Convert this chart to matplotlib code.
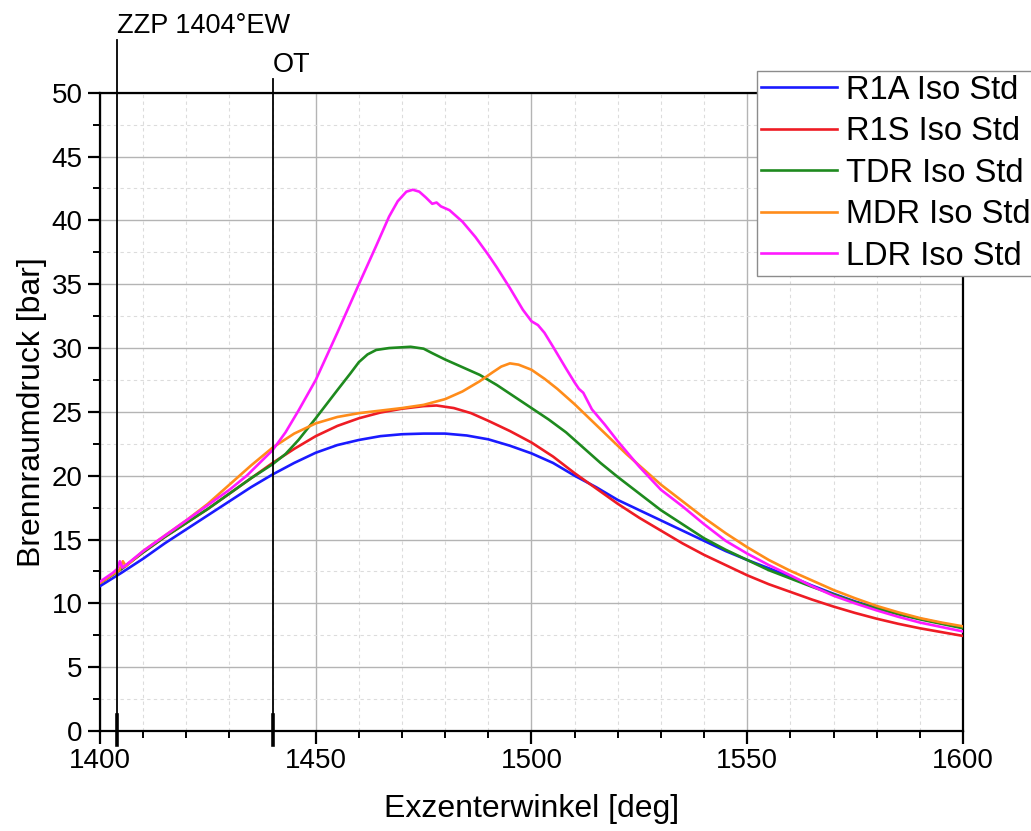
import numpy as np
import matplotlib
matplotlib.use("Agg")
import matplotlib.pyplot as plt
from matplotlib.ticker import MultipleLocator
import matplotlib.transforms as mtransforms

plt.rcParams['font.family'] = ['Liberation Sans', 'DejaVu Sans']

# --- data (angle in deg, pressure in bar) ---
r1a_x = [1400, 1405, 1410, 1415, 1420, 1425, 1430, 1435, 1440, 1445, 1450, 1455,
         1460, 1465, 1470, 1475, 1480, 1485, 1490, 1495, 1500, 1505, 1510, 1515,
         1520, 1525, 1530, 1535, 1540, 1545, 1550, 1555, 1560, 1565, 1570, 1575,
         1580, 1585, 1590, 1595, 1600]
r1a_y = [11.35, 12.4, 13.5, 14.7, 15.8, 16.9, 18.0, 19.1, 20.1, 21.0, 21.8, 22.4,
         22.8, 23.1, 23.25, 23.3, 23.3, 23.15, 22.85, 22.35, 21.75, 21.0, 20.0, 19.1,
         18.1, 17.3, 16.5, 15.7, 14.9, 14.1, 13.4, 12.75, 12.1, 11.4, 10.75, 10.15,
         9.65, 9.2, 8.8, 8.45, 8.1]

r1s_x = [1400, 1405, 1410, 1415, 1420, 1425, 1430, 1435, 1440, 1445, 1450, 1455,
         1460, 1465, 1470, 1475, 1478, 1482, 1486, 1490, 1495, 1500, 1505, 1510,
         1515, 1520, 1525, 1530, 1535, 1540, 1545, 1550, 1555, 1560, 1565, 1570,
         1575, 1580, 1585, 1590, 1595, 1600]
r1s_y = [11.6, 12.7, 14.0, 15.2, 16.3, 17.4, 18.6, 19.8, 21.0, 22.1, 23.1, 23.9,
         24.5, 24.95, 25.25, 25.45, 25.5, 25.3, 24.9, 24.3, 23.5, 22.6, 21.5, 20.2,
         19.0, 17.8, 16.7, 15.7, 14.7, 13.8, 13.0, 12.2, 11.5, 10.9, 10.3, 9.75,
         9.25, 8.8, 8.4, 8.05, 7.75, 7.45]

tdr_x = [1400, 1405, 1410, 1415, 1420, 1425, 1430, 1435, 1440, 1443, 1446, 1450,
         1455, 1458, 1460, 1462, 1464, 1467, 1472, 1475, 1477, 1480, 1484, 1488,
         1492, 1496, 1500, 1504, 1508, 1512, 1516, 1520, 1525, 1530, 1535, 1540,
         1545, 1550, 1555, 1560, 1565, 1570, 1575, 1580, 1585, 1590, 1595, 1600]
tdr_y = [11.6, 12.7, 14.0, 15.2, 16.3, 17.4, 18.6, 19.8, 20.9, 21.7, 22.8, 24.5,
         26.7, 28.0, 28.9, 29.5, 29.85, 30.0, 30.1, 29.95, 29.6, 29.1, 28.5, 27.9,
         27.1, 26.2, 25.3, 24.4, 23.4, 22.2, 21.0, 19.9, 18.6, 17.3, 16.2, 15.1,
         14.2, 13.4, 12.6, 11.95, 11.3, 10.7, 10.1, 9.6, 9.15, 8.75, 8.4, 8.05]

mdr_x = [1400, 1403, 1404.5, 1405.3, 1406, 1410, 1415, 1420, 1425, 1430, 1435, 1440,
         1445, 1450, 1455, 1460, 1465, 1470, 1475, 1480, 1484, 1488, 1491, 1493,
         1495, 1497, 1500, 1503, 1506, 1510, 1514, 1518, 1522, 1526, 1530, 1535,
         1540, 1545, 1550, 1555, 1560, 1565, 1570, 1575, 1580, 1585, 1590, 1595, 1600]
mdr_y = [11.6, 12.3, 12.6, 13.3, 12.9, 14.1, 15.3, 16.5, 17.8, 19.3, 20.8, 22.2,
         23.3, 24.1, 24.6, 24.9, 25.1, 25.3, 25.55, 26.0, 26.6, 27.4, 28.1, 28.55,
         28.8, 28.7, 28.3, 27.6, 26.8, 25.6, 24.3, 23.0, 21.7, 20.5, 19.3, 18.0,
         16.7, 15.5, 14.4, 13.4, 12.55, 11.8, 11.05, 10.4, 9.8, 9.3, 8.85, 8.5, 8.2]

ldr_x = [1400, 1403, 1404, 1404.6, 1405.2, 1406, 1410, 1415, 1420, 1425, 1430, 1434,
         1437, 1440, 1443, 1446, 1450, 1455, 1460, 1464, 1467, 1469, 1471, 1472.5,
         1474, 1475.5, 1477, 1478, 1479, 1481, 1484, 1487, 1490, 1492, 1495, 1498,
         1500, 1501.5, 1503, 1505, 1508, 1510, 1511, 1512, 1514, 1517, 1520, 1525,
         1530, 1535, 1540, 1545, 1550, 1555, 1560, 1565, 1570, 1575, 1580, 1585,
         1590, 1595, 1600]
ldr_y = [11.7, 12.4, 12.7, 13.3, 12.8, 13.0, 14.1, 15.3, 16.5, 17.7, 18.9, 20.0,
         21.0, 22.0, 23.4, 25.1, 27.5, 31.2, 35.0, 38.0, 40.3, 41.5, 42.25, 42.4,
         42.25, 41.8, 41.3, 41.4, 41.1, 40.8, 39.9, 38.7, 37.3, 36.3, 34.7, 33.0,
         32.1, 31.8, 31.2, 30.1, 28.4, 27.3, 26.8, 26.5, 25.2, 24.0, 22.7, 20.7,
         18.9, 17.6, 16.2, 14.9, 13.9, 13.0, 12.2, 11.35, 10.6, 10.0, 9.45, 8.95,
         8.5, 8.15, 7.8]

series = [
    ("R1A Iso Std", r1a_x, r1a_y, "#1a1aff"),
    ("R1S Iso Std", r1s_x, r1s_y, "#ee1c24"),
    ("TDR Iso Std", tdr_x, tdr_y, "#1e8a1e"),
    ("MDR Iso Std", mdr_x, mdr_y, "#ff8c1a"),
    ("LDR Iso Std", ldr_x, ldr_y, "#ff1aff"),
]

zzp_angle = 1404
ot_angle = 1440

fig = plt.figure(figsize=(10.31, 8.31), dpi=100)
ax = fig.add_axes([0.097, 0.1203, 0.837, 0.7681])

for label, x, y, c in series:
    ax.plot(x, y, color=c, lw=1.9, label=label, zorder=3)

ax.set_xlim(1400, 1600)
ax.set_ylim(0, 50)
ax.xaxis.set_major_locator(MultipleLocator(50))
ax.xaxis.set_minor_locator(MultipleLocator(10))
ax.yaxis.set_major_locator(MultipleLocator(5))
ax.yaxis.set_minor_locator(MultipleLocator(2.5))

ax.grid(which='major', color='#b4b4b4', lw=1.0, zorder=0)
ax.grid(which='minor', color='#dcdcdc', lw=0.8, ls=(0, (3, 3)), zorder=0)
ax.set_axisbelow(True)

ax.tick_params(which='major', direction='out', length=9, width=1.6, labelsize=20,
               top=False, right=False)
ax.tick_params(which='minor', direction='out', length=5, width=1.4,
               top=False, right=False)
for s in ax.spines.values():
    s.set_linewidth(1.6)

ax.set_xlabel("Exzenterwinkel [deg]", fontsize=23, labelpad=14)
ax.set_ylabel("Brennraumdruck [bar]", fontsize=23, labelpad=3)

# marker lines for ignition (ZZP) and top dead centre (OT)
trans = mtransforms.blended_transform_factory(ax.transData, ax.transAxes)
ax.plot([zzp_angle, zzp_angle], [-0.01, 1.083], transform=trans, color='k',
        lw=1.3, clip_on=False, zorder=4)
ax.plot([ot_angle, ot_angle], [-0.01, 1.022], transform=trans, color='k',
        lw=1.3, clip_on=False, zorder=4)
for a in (zzp_angle, ot_angle):
    ax.plot([a, a], [-0.022, 0.025], transform=trans, color='k', lw=2.6,
            clip_on=False, zorder=4)
ax.text(zzp_angle, 1.094, "ZZP 1404°EW", transform=trans, fontsize=19.5,
        ha='left', va='baseline')
ax.text(ot_angle, 1.032, "OT", transform=trans, fontsize=19.5,
        ha='left', va='baseline')

leg = ax.legend(loc='upper left', bbox_to_anchor=(757 / 1031, 1 - 71 / 831),
                bbox_transform=fig.transFigure, fontsize=23.5, frameon=True,
                fancybox=False, framealpha=1, edgecolor='#8c8c8c',
                borderpad=0.12, handlelength=2.33, handletextpad=0.285,
                labelspacing=0.32, borderaxespad=0)
leg.get_frame().set_linewidth(1.0)
leg.set_zorder(10)

fig.savefig("out.png", dpi=100)
